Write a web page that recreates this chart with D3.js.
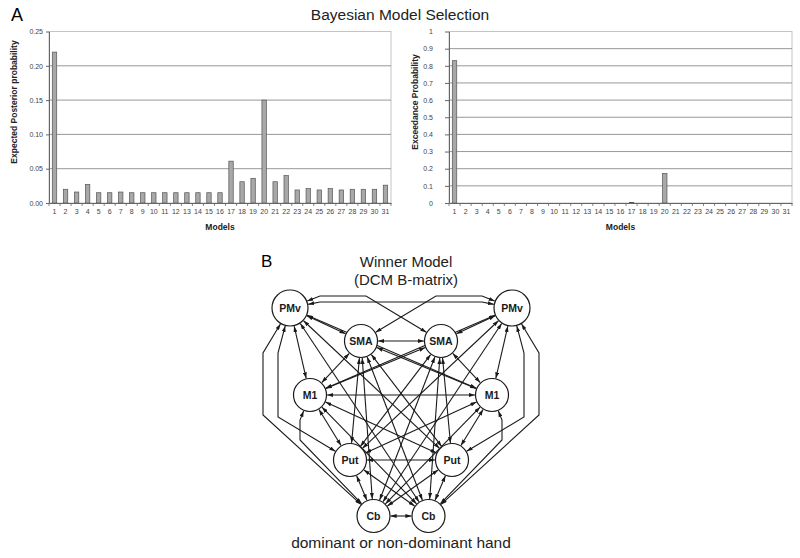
<!DOCTYPE html>
<html>
<head>
<meta charset="utf-8">
<script src="https://cdn.jsdelivr.net/npm/d3@7/dist/d3.min.js"></script>
<style>
  body { margin: 0; background: #fff; }
  svg { display: block; font-family: "Liberation Sans", Arial, sans-serif; }
</style>
</head>
<body>
<div id="chart"></div>
<script>
// Model numbers on the x axis
var models = ["1","2","3","4","5","6","7","8","9","10","11","12","13","14","15","16",
              "17","18","19","20","21","22","23","24","25","26","27","28","29","30","31"];

// Expected posterior probability per model
var posterior = [0.220, 0.020, 0.016, 0.027, 0.015, 0.015, 0.016, 0.015, 0.015, 0.015,
                 0.015, 0.015, 0.015, 0.015, 0.015, 0.015, 0.061, 0.031, 0.036, 0.150,
                 0.031, 0.040, 0.019, 0.021, 0.019, 0.021, 0.019, 0.020, 0.020, 0.020, 0.026];

// Exceedance probability per model
var exceedance = [0.830, 0, 0, 0, 0, 0, 0, 0, 0, 0,
                  0, 0, 0, 0, 0, 0, 0.003, 0, 0, 0.172,
                  0, 0, 0, 0, 0, 0, 0, 0, 0, 0, 0];

var posteriorTicks = [0, 0.05, 0.10, 0.15, 0.20, 0.25];
var exceedanceTicks = [0, 0.1, 0.2, 0.3, 0.4, 0.5, 0.6, 0.7, 0.8, 0.9, 1];

// Winner model regions (both hemispheres) and its connections
var regions = ["PMv", "SMA", "M1", "Put", "Cb"];
var sides = ["L", "R"];
var connections = [
  ["PMvL","PMvR"], ["PMvL","SMAL"], ["PMvL","SMAR"], ["PMvL","M1L"], ["PMvL","M1R"],
  ["PMvL","PutL"], ["PMvL","PutR"], ["PMvL","CbL"], ["PMvL","CbR"],
  ["PMvR","SMAL"], ["PMvR","SMAR"], ["PMvR","M1L"], ["PMvR","M1R"],
  ["PMvR","PutL"], ["PMvR","PutR"], ["PMvR","CbL"], ["PMvR","CbR"],
  ["SMAL","SMAR"], ["SMAL","M1L"], ["SMAL","M1R"], ["SMAL","PutL"], ["SMAL","PutR"],
  ["SMAL","CbL"], ["SMAL","CbR"],
  ["SMAR","M1L"], ["SMAR","M1R"], ["SMAR","PutL"], ["SMAR","PutR"], ["SMAR","CbL"], ["SMAR","CbR"],
  ["M1L","M1R"], ["M1L","PutL"], ["M1L","PutR"], ["M1L","CbL"], ["M1L","CbR"],
  ["M1R","PutL"], ["M1R","PutR"], ["M1R","CbL"], ["M1R","CbR"],
  ["PutL","PutR"], ["PutL","CbL"], ["PutL","CbR"],
  ["PutR","CbL"], ["PutR","CbR"],
  ["CbL","CbR"]
];

var W = 800, H = 558;
var svg = d3.select("#chart").append("svg").attr("width", W).attr("height", H);

// ---------- Panel A ----------
svg.append("text").attr("x", 11).attr("y", 21).style("font-size", "18px").text("A");
svg.append("text").attr("x", 400).attr("y", 20).attr("text-anchor", "middle")
   .style("font-size", "15.5px").attr("fill", "#222").text("Bayesian Model Selection");

function barChart(cfg) {
  var x = d3.scaleBand().domain(models).range([cfg.left, cfg.right])
    .paddingInner(0.6).paddingOuter(0.3);
  var y = d3.scaleLinear().domain([0, cfg.max]).range([203, 31.5]);
  var g = svg.append("g");

  g.append("rect")
    .attr("x", cfg.left).attr("y", y(cfg.max))
    .attr("width", cfg.right - cfg.left).attr("height", y(0) - y(cfg.max))
    .attr("fill", "none").attr("stroke", "#c4c4c4").attr("stroke-width", 1);

  g.selectAll(".grid").data(cfg.ticks.filter(function(d){ return d > 0 && d < cfg.max; }))
    .enter().append("line")
    .attr("x1", cfg.left).attr("x2", cfg.right)
    .attr("y1", function(d){ return y(d); }).attr("y2", function(d){ return y(d); })
    .attr("stroke", "#8c8c8c").attr("stroke-width", 0.9);

  g.selectAll(".bar").data(cfg.values).enter().append("rect")
    .attr("x", function(d, i){ return x(models[i]); })
    .attr("width", x.bandwidth())
    .attr("y", function(d){ return y(d); })
    .attr("height", function(d){ return y(0) - y(d); })
    .attr("fill", "#a8a8a8").attr("stroke", "#555").attr("stroke-width", 0.7);

  var ya = g.append("g").attr("transform", "translate(" + cfg.left + ",0)")
    .call(d3.axisLeft(y).tickValues(cfg.ticks).tickFormat(cfg.fmt)
      .tickSize(cfg.tickSize).tickPadding(cfg.tickPad).tickSizeOuter(0));
  var xa = g.append("g").attr("transform", "translate(0," + y(0) + ")")
    .call(d3.axisBottom(x).tickSize(0).tickPadding(6.5).tickSizeOuter(0));

  [ya, xa].forEach(function(a) {
    a.select(".domain").attr("stroke", "#666");
    a.selectAll(".tick line").attr("stroke", "#666");
    a.selectAll("text").style("font-size", "7px").attr("fill", "#444")
      .style("font-family", "'Liberation Sans', Arial, sans-serif");
  });

  // tick marks between categories
  var step = x.step();
  var bounds = models.map(function(m){ return x(m) - step * 0.3; });
  bounds.push(cfg.right);
  g.selectAll(".bt").data(bounds).enter().append("line")
    .attr("x1", function(d){ return d; }).attr("x2", function(d){ return d; })
    .attr("y1", y(0)).attr("y2", y(0) + 3)
    .attr("stroke", "#666").attr("stroke-width", 0.8);

  g.append("text")
    .attr("transform", "translate(" + cfg.titleX + ",102) rotate(-90)")
    .attr("text-anchor", "middle").style("font-size", "8.5px").style("font-weight", "bold")
    .attr("fill", "#222").text(cfg.yTitle);
  g.append("text")
    .attr("x", (cfg.left + cfg.right) / 2).attr("y", 230)
    .attr("text-anchor", "middle").style("font-size", "8.5px").style("font-weight", "bold")
    .attr("fill", "#222").text("Models");
}

barChart({ left: 49, right: 391, max: 0.25, values: posterior, ticks: posteriorTicks,
  fmt: d3.format(".2f"), tickSize: 3, tickPad: 3,
  yTitle: "Expected Posterior probability", titleX: 17 });
barChart({ left: 449, right: 792, max: 1, values: exceedance, ticks: exceedanceTicks,
  fmt: function(d){ return String(d); }, tickSize: 4, tickPad: 12,
  yTitle: "Exceedance Probability", titleX: 418 });

// ---------- Panel B ----------
svg.append("text").attr("x", 261).attr("y", 267).style("font-size", "17px").text("B");
svg.append("text").attr("x", 406).attr("y", 267).attr("text-anchor", "middle")
   .style("font-size", "15px").attr("fill", "#222").text("Winner Model");
svg.append("text").attr("x", 406).attr("y", 284.5).attr("text-anchor", "middle")
   .style("font-size", "15px").attr("fill", "#222").text("(DCM B-matrix)");
svg.append("text").attr("x", 401).attr("y", 548).attr("text-anchor", "middle")
   .style("font-size", "15.5px").attr("fill", "#222").text("dominant or non-dominant hand");

// layout of the regions
var rowY = d3.scaleOrdinal().domain(regions).range([308, 341, 395, 460, 516]);
var rowHalf = d3.scaleOrdinal().domain(regions).range([111, 40, 91, 51, 27.5]);
var rowR = d3.scaleOrdinal().domain(regions).range([18, 16.5, 16.5, 16.5, 16.5]);
var midX = 401;

var nodes = {};
regions.forEach(function(r) {
  sides.forEach(function(s) {
    var sg = s === "L" ? -1 : 1;
    nodes[r + s] = { id: r + s, name: r, side: s, sg: sg,
      x: midX + sg * rowHalf(r), y: rowY(r), r: rowR(r) };
  });
});

var defs = svg.append("defs");
defs.append("marker").attr("id", "arr")
  .attr("viewBox", "0 0 6 4").attr("refX", 6).attr("refY", 2)
  .attr("markerWidth", 6).attr("markerHeight", 4)
  .attr("markerUnits", "userSpaceOnUse").attr("orient", "auto-start-reverse")
  .append("path").attr("d", "M0,0L6,2L0,4Z").attr("fill", "#1a1a1a");

function waypoints(a, b) {
  var key = [a.id, b.id].sort().join("-");
  var P = { L: nodes.PMvL, R: nodes.PMvR };
  if (key === "PMvL-PMvR") {
    var wy = P.L.y - 6;
    return a.side === "L" ? [[a.x + 30, wy], [b.x - 30, wy]] : [[a.x - 30, wy], [b.x + 30, wy]];
  }
  if (a.name === "PMv" && b.name === "SMA" && a.side !== b.side) {
    var ty = a.y - 12;
    var near = nodes["SMA" + a.side];
    return [[a.x - a.sg * 30, ty], [near.x - a.sg * 5, ty]];
  }
  if (a.side === b.side) {
    var names = [a.name, b.name].sort().join("-");
    var top = (a.y < b.y) ? a : b;
    var wps = null;
    if (names === "Cb-PMv") wps = [[top.x + top.sg * 27, top.y + 45], [top.x + top.sg * 27, 415]];
    if (names === "PMv-Put") wps = [[top.x + top.sg * 12, top.y + 45], [top.x + top.sg * 12, 417]];
    if (names === "Cb-M1") wps = [[top.x + top.sg * 10, top.y + 25], [top.x + top.sg * 10, 440]];
    if (wps) return top === a ? wps : wps.reverse();
  }
  return [];
}

function clip(c, p, r) {
  var dx = p[0] - c.x, dy = p[1] - c.y, L = Math.sqrt(dx * dx + dy * dy);
  return [c.x + dx / L * r, c.y + dy / L * r];
}

var line = d3.line();
var edgePaths = connections.map(function(e) {
  var a = nodes[e[0]], b = nodes[e[1]];
  var wp = waypoints(a, b);
  var first = wp.length ? wp[0] : [b.x, b.y];
  var last = wp.length ? wp[wp.length - 1] : [a.x, a.y];
  var pts = [clip(a, first, a.r + 0.6)].concat(wp).concat([clip(b, last, b.r + 0.6)]);
  return pts;
});

svg.append("g").selectAll("path").data(edgePaths).enter().append("path")
  .attr("d", function(d){ return line(d); })
  .attr("fill", "none").attr("stroke", "#1a1a1a").attr("stroke-width", 1.1)
  .attr("marker-start", "url(#arr)").attr("marker-end", "url(#arr)");

var ng = svg.append("g").selectAll("g").data(Object.values(nodes)).enter().append("g");
ng.append("circle")
  .attr("cx", function(d){ return d.x; }).attr("cy", function(d){ return d.y; })
  .attr("r", function(d){ return d.r; })
  .attr("fill", "#fff").attr("stroke", "#1a1a1a").attr("stroke-width", 1.2);
ng.append("text")
  .attr("x", function(d){ return d.x; }).attr("y", function(d){ return d.y + 3.8; })
  .attr("text-anchor", "middle").style("font-size", "10.5px").style("font-weight", "bold")
  .attr("fill", "#1a1a1a").text(function(d){ return d.name; });
</script>
</body>
</html>
